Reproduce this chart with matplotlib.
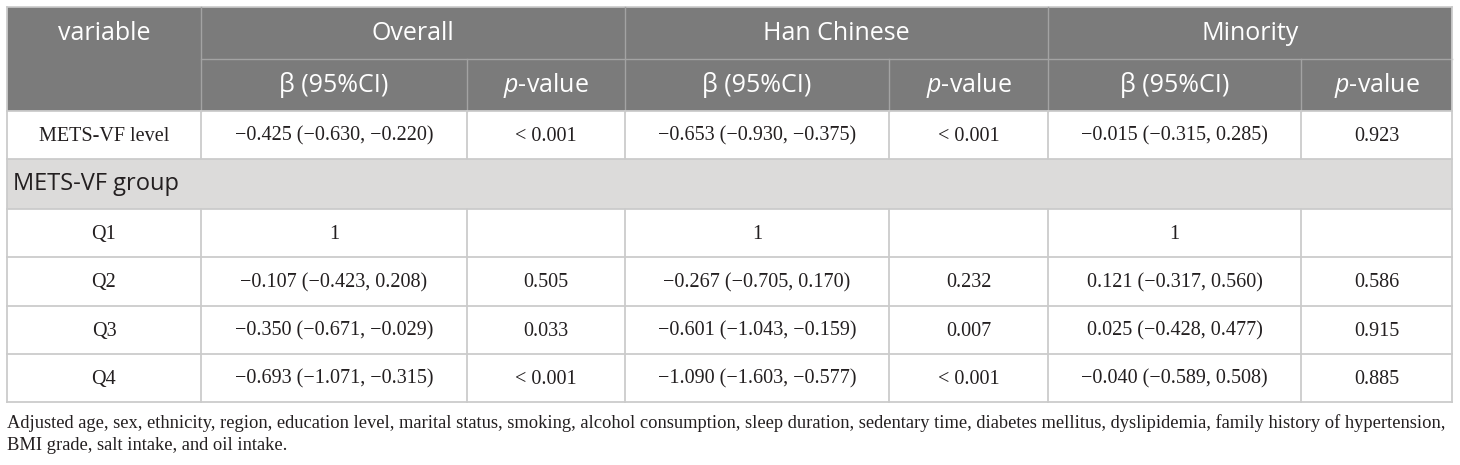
import matplotlib.pyplot as plt
from matplotlib.patches import Rectangle

plt.rcParams['mathtext.fontset'] = 'custom'
plt.rcParams['mathtext.it'] = 'Open Sans:italic'
plt.rcParams['mathtext.rm'] = 'Open Sans'

# table content
groups = ["Overall", "Han Chinese", "Minority"]
sub_headers = ["β (95%CI)", "$p$-value"]
first_col = "variable"
row_labels = ["METS-VF level", "Q1", "Q2", "Q3", "Q4"]
section_label = "METS-VF group"

overall_beta = ["−0.425 (−0.630, −0.220)", "1", "−0.107 (−0.423, 0.208)",
                "−0.350 (−0.671, −0.029)", "−0.693 (−1.071, −0.315)"]
overall_p = ["< 0.001", "", "0.505", "0.033", "< 0.001"]
han_beta = ["−0.653 (−0.930, −0.375)", "1", "−0.267 (−0.705, 0.170)",
            "−0.601 (−1.043, −0.159)", "−1.090 (−1.603, −0.577)"]
han_p = ["< 0.001", "", "0.232", "0.007", "< 0.001"]
minority_beta = ["−0.015 (−0.315, 0.285)", "1", "0.121 (−0.317, 0.560)",
                 "0.025 (−0.428, 0.477)", "−0.040 (−0.589, 0.508)"]
minority_p = ["0.923", "", "0.586", "0.915", "0.885"]

footnote = ["Adjusted age, sex, ethnicity, region, education level, marital status, smoking, "
            "alcohol consumption, sleep duration, sedentary time, diabetes mellitus, dyslipidemia, "
            "family history of hypertension,",
            "BMI grade, salt intake, and oil intake."]

# layout in pixels
W, H = 1460, 465
col_x = [7, 201, 467, 625, 889, 1048, 1301, 1452]
row_y = [7, 59, 111, 159, 209, 257, 306, 354, 402]

header_bg = '#7b7b7b'
header_line = '#a3a3a3'
grid = '#cbcbcb'
section_bg = '#dcdbda'
body_txt = '#231f20'

fig = plt.figure(figsize=(W / 100, H / 100), dpi=100)
ax = fig.add_axes([0, 0, 1, 1])
ax.set_xlim(0, W)
ax.set_ylim(H, 0)
ax.axis('off')

left, right = col_x[0], col_x[-1]

# header block
ax.add_patch(Rectangle((left, row_y[0]), right - left, row_y[2] - row_y[0],
                       facecolor=header_bg, edgecolor='none'))
ax.plot([left, right], [row_y[0], row_y[0]], color=grid, lw=1.2)
ax.plot([col_x[1], right], [row_y[1], row_y[1]], color=header_line, lw=1.0)
for i in (1, 3, 5):
    ax.plot([col_x[i], col_x[i]], [row_y[0], row_y[2]], color=header_line, lw=1.0)
for i in (2, 4, 6):
    ax.plot([col_x[i], col_x[i]], [row_y[1], row_y[2]], color=header_line, lw=1.0)

hfont = dict(family='Open Sans', color='white', fontsize=18, ha='center', va='center')
ax.text((col_x[0] + col_x[1]) / 2, (row_y[0] + row_y[1]) / 2, first_col, **hfont)
for g, name in enumerate(groups):
    xa, xb, xc = col_x[1 + 2 * g], col_x[2 + 2 * g], col_x[3 + 2 * g]
    ax.text((xa + xc) / 2, (row_y[0] + row_y[1]) / 2, name, **hfont)
    ax.text((xa + xb) / 2, (row_y[1] + row_y[2]) / 2, sub_headers[0], **hfont)
    ax.text((xb + xc) / 2, (row_y[1] + row_y[2]) / 2, sub_headers[1], **hfont)

# section row
ax.add_patch(Rectangle((left, row_y[3]), right - left, row_y[4] - row_y[3],
                       facecolor=section_bg, edgecolor='none'))
ax.text(left + 6, (row_y[3] + row_y[4]) / 2, section_label, family='Open Sans',
        fontsize=17, color=body_txt, ha='left', va='center')

# body rows
columns = [row_labels, overall_beta, overall_p, han_beta, han_p, minority_beta, minority_p]
body_rows = [2, 4, 5, 6, 7]
for r, ri in enumerate(body_rows):
    yc = (row_y[ri] + row_y[ri + 1]) / 2
    for c, col in enumerate(columns):
        ax.text((col_x[c] + col_x[c + 1]) / 2, yc + 1, col[r], family='Liberation Serif',
                fontsize=14.5, color=body_txt, ha='center', va='center')

# grid lines
for y in row_y[2:]:
    ax.plot([left, right], [y, y], color=grid, lw=1.3)
for ri in body_rows:
    for x in col_x[1:-1]:
        ax.plot([x, x], [row_y[ri], row_y[ri + 1]], color=grid, lw=1.3)
ax.plot([left, left], [row_y[0], row_y[-1]], color=grid, lw=1.3)
ax.plot([right, right], [row_y[0], row_y[-1]], color=grid, lw=1.3)

# footnote
for k, line in enumerate(footnote):
    ax.text(left, 428 + 22 * k, line, family='Liberation Serif', fontsize=13.3,
            color=body_txt, ha='left', va='baseline')

fig.savefig('out.png', dpi=100)
